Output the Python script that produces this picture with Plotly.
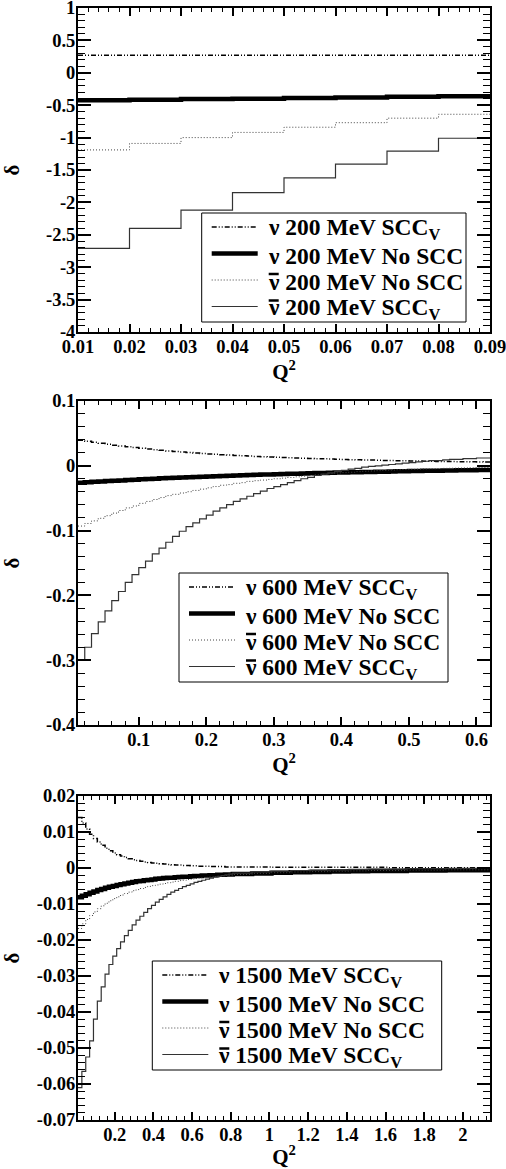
import numpy as np
import plotly.graph_objects as go

FONT = "Liberation Serif"

# ---------------- data: 200 MeV (bins of 0.01 in Q^2) ----------------
EDGES_200 = [0.01, 0.02, 0.03, 0.04, 0.05, 0.06, 0.07, 0.08, 0.09]
nu_200_scc = [0.27, 0.27, 0.27, 0.27, 0.27, 0.27, 0.27, 0.27]
nu_200_noscc = [-0.425, -0.415, -0.405, -0.40, -0.39, -0.38, -0.37, -0.36]
nubar_200_noscc = [-1.19, -1.09, -1.00, -0.92, -0.84, -0.77, -0.70, -0.64]
nubar_200_scc = [-2.71, -2.40, -2.12, -1.85, -1.62, -1.41, -1.21, -1.01]

# ---------------- data: 600 MeV (bins of 0.01 from 0.01 to 0.62) ----------------
EDGES_600 = list(np.round(np.linspace(0.01, 0.62, 62), 2))
nu_600_scc = [0.0395, 0.0378, 0.0362, 0.0347, 0.0333, 0.0319, 0.0306, 0.0293, 0.0281, 0.0270,
              0.0259, 0.0249, 0.0239, 0.0230, 0.0221, 0.0213, 0.0205, 0.0198, 0.0191, 0.0184,
              0.0178, 0.0172, 0.0166, 0.0160, 0.0155, 0.0150, 0.0145, 0.0141, 0.0136, 0.0132,
              0.0128, 0.0124, 0.0120, 0.0117, 0.0113, 0.0110, 0.0107, 0.0104, 0.0101, 0.0098,
              0.0095, 0.0093, 0.0090, 0.0088, 0.0086, 0.0083, 0.0081, 0.0079, 0.0077, 0.0075,
              0.0073, 0.0072, 0.0070, 0.0068, 0.0067, 0.0065, 0.0064, 0.0062, 0.0061, 0.0060,
              0.0058]
nu_600_noscc = [-0.0260, -0.0254, -0.0248, -0.0242, -0.0236, -0.0230, -0.0225, -0.0219, -0.0214, -0.0209,
                -0.0204, -0.0199, -0.0194, -0.0190, -0.0185, -0.0181, -0.0177, -0.0172, -0.0168, -0.0164,
                -0.0160, -0.0157, -0.0153, -0.0149, -0.0146, -0.0142, -0.0139, -0.0136, -0.0133, -0.0130,
                -0.0127, -0.0124, -0.0121, -0.0118, -0.0115, -0.0113, -0.0110, -0.0108, -0.0105, -0.0103,
                -0.0100, -0.0098, -0.0096, -0.0094, -0.0092, -0.0090, -0.0088, -0.0086, -0.0084, -0.0082,
                -0.0080, -0.0078, -0.0077, -0.0075, -0.0073, -0.0072, -0.0070, -0.0069, -0.0067, -0.0066,
                -0.0064]
nubar_600_noscc = [-0.093, -0.089, -0.085, -0.081, -0.077, -0.073, -0.069, -0.065, -0.062, -0.058,
                   -0.055, -0.052, -0.049, -0.046, -0.044, -0.042, -0.040, -0.038, -0.036, -0.034,
                   -0.032, -0.030, -0.029, -0.027, -0.026, -0.024, -0.023, -0.022, -0.021, -0.020,
                   -0.019, -0.018, -0.017, -0.016, -0.015, -0.014, -0.013, -0.012, -0.011, -0.0105,
                   -0.0100, -0.0090, -0.0085, -0.0080, -0.0075, -0.0070, -0.0065, -0.0060, -0.0057, -0.0054,
                   -0.0051, -0.0048, -0.0045, -0.0042, -0.0040, -0.0037, -0.0035, -0.0033, -0.0030, -0.0028,
                   -0.0026]
nubar_600_scc = [-0.300, -0.280, -0.259, -0.241, -0.224, -0.208, -0.194, -0.180, -0.168, -0.157,
                 -0.147, -0.136, -0.127, -0.118, -0.109, -0.101, -0.094, -0.088, -0.082, -0.076,
                 -0.070, -0.065, -0.060, -0.055, -0.051, -0.047, -0.043, -0.039, -0.035, -0.032,
                 -0.029, -0.026, -0.023, -0.020, -0.018, -0.015, -0.013, -0.011, -0.009, -0.007,
                 -0.005, -0.004, -0.002, -0.001, 0.000, 0.001, 0.002, 0.003, 0.004, 0.005,
                 0.006, 0.007, 0.008, 0.008, 0.009, 0.010, 0.010, 0.011, 0.011, 0.012,
                 0.012]

# ---------------- data: 1500 MeV (bins of 0.02 up to 0.81, then 0.1) ----------------
EDGES_1500 = list(np.round(np.r_[np.arange(0.01, 0.80, 0.02), np.arange(0.81, 2.02, 0.1), 2.14], 2))
nu_1500_scc = [0.0140, 0.0125, 0.0108, 0.0094, 0.0082, 0.0072, 0.0063, 0.0055, 0.0048, 0.0042,
               0.0037, 0.0033, 0.0029, 0.0026, 0.0023, 0.0021, 0.0019, 0.0017, 0.0015, 0.0014,
               0.0013, 0.0012, 0.0011, 0.0010, 0.0009, 0.0008, 0.0008, 0.0007, 0.0007, 0.0006,
               0.0006, 0.0005, 0.0005, 0.0005, 0.0004, 0.0004, 0.0004, 0.0004, 0.0003, 0.0003,
               0.0003, 0.0003, 0.0002, 0.0002, 0.0002, 0.0002, 0.0002, 0.0002, 0.0001, 0.0001,
               0.0001, 0.0001, 0.0001]
nu_1500_noscc = [-0.0081, -0.0077, -0.0073, -0.0069, -0.0065, -0.0061, -0.0058, -0.0055, -0.0052, -0.0050,
                 -0.0047, -0.0045, -0.0043, -0.0041, -0.0039, -0.0037, -0.0036, -0.0034, -0.0033, -0.0032,
                 -0.0030, -0.0029, -0.0028, -0.0027, -0.0027, -0.0026, -0.0025, -0.0024, -0.0024, -0.0023,
                 -0.0022, -0.0022, -0.0021, -0.0021, -0.0020, -0.0020, -0.0019, -0.0019, -0.0018, -0.0018,
                 -0.0017, -0.0015, -0.0013, -0.0012, -0.0011, -0.0010, -0.0009, -0.0008, -0.0008, -0.0007,
                 -0.0007, -0.0006, -0.0006]
nubar_1500_noscc = [-0.0168, -0.0155, -0.0143, -0.0132, -0.0122, -0.0113, -0.0105, -0.0098, -0.0091, -0.0085,
                    -0.0080, -0.0075, -0.0071, -0.0067, -0.0063, -0.0060, -0.0057, -0.0054, -0.0051, -0.0049,
                    -0.0047, -0.0045, -0.0043, -0.0041, -0.0039, -0.0037, -0.0035, -0.0034, -0.0032, -0.0031,
                    -0.0029, -0.0028, -0.0027, -0.0026, -0.0025, -0.0024, -0.0023, -0.0022, -0.0021, -0.0020,
                    -0.0018, -0.0015, -0.0013, -0.0011, -0.0010, -0.0009, -0.0008, -0.0007, -0.0007, -0.0006,
                    -0.0006, -0.0005, -0.0005]
nubar_1500_scc = [-0.0610, -0.0565, -0.0525, -0.0480, -0.0420, -0.0370, -0.0330, -0.0295, -0.0268, -0.0245,
                  -0.0224, -0.0205, -0.0188, -0.0173, -0.0158, -0.0145, -0.0134, -0.0123, -0.0113, -0.0104,
                  -0.0095, -0.0087, -0.0080, -0.0073, -0.0067, -0.0062, -0.0057, -0.0052, -0.0048, -0.0044,
                  -0.0040, -0.0037, -0.0034, -0.0031, -0.0028, -0.0025, -0.0023, -0.0021, -0.0019, -0.0017,
                  -0.0014, -0.0011, -0.0009, -0.0007, -0.0006, -0.0005, -0.0004, -0.0003, -0.0003, -0.0002,
                  -0.0002, -0.0001, -0.0001]

# ---------------- tick labels ----------------
X_TICKS_200 = [0.01, 0.02, 0.03, 0.04, 0.05, 0.06, 0.07, 0.08, 0.09]
X_LABELS_200 = ["0.01", "0.02", "0.03", "0.04", "0.05", "0.06", "0.07", "0.08", "0.09"]
Y_TICKS_200 = [1, 0.5, 0, -0.5, -1, -1.5, -2, -2.5, -3, -3.5, -4]
Y_LABELS_200 = ["1", "0.5", "0", "-0.5", "-1", "-1.5", "-2", "-2.5", "-3", "-3.5", "-4"]
X_TICKS_600 = [0.1, 0.2, 0.3, 0.4, 0.5, 0.6]
X_LABELS_600 = ["0.1", "0.2", "0.3", "0.4", "0.5", "0.6"]
Y_TICKS_600 = [0.1, 0, -0.1, -0.2, -0.3, -0.4]
Y_LABELS_600 = ["0.1", "0", "-0.1", "-0.2", "-0.3", "-0.4"]
X_TICKS_1500 = [0.2, 0.4, 0.6, 0.8, 1.0, 1.2, 1.4, 1.6, 1.8, 2.0]
X_LABELS_1500 = ["0.2", "0.4", "0.6", "0.8", "1", "1.2", "1.4", "1.6", "1.8", "2"]
Y_TICKS_1500 = [0.02, 0.01, 0, -0.01, -0.02, -0.03, -0.04, -0.05, -0.06, -0.07]
Y_LABELS_1500 = ["0.02", "0.01", "0", "-0.01", "-0.02", "-0.03", "-0.04", "-0.05", "-0.06", "-0.07"]

ENERGIES = [200, 600, 1500]
NU = "\u03bd"

# ---------------- geometry (pixels) ----------------
W, H = 506, 1169
ML, MR, MT, MB = 78, 16, 8, 49
PW, PH = W - ML - MR, H - MT - MB


def px2x(px):
    return (px - ML) / PW


def py2y(py):
    return (H - MB - py) / PH


STYLES = {
    "scc": dict(color="black", width=1.5, dash="5px,2px,1px,2px,1px,2px"),
    "noscc": dict(color="black", width=4.5),
    "bar_noscc": dict(color="#444444", width=1, dash="1px,2px"),
    "bar_scc": dict(color="#333333", width=1.2),
}
ORDER = ["scc", "noscc", "bar_noscc", "bar_scc"]

fig = go.Figure()


def add_panel(idx, edges, series, energy):
    xa = "x" if idx == 1 else f"x{idx}"
    ya = "y" if idx == 1 else f"y{idx}"
    names = [f"{NU} {energy} MeV SCC_V", f"{NU} {energy} MeV No SCC",
             f"anti-{NU} {energy} MeV No SCC", f"anti-{NU} {energy} MeV SCC_V"]
    for vals, name, st in zip(series, names, ORDER):
        fig.add_trace(go.Scatter(
            x=edges, y=list(vals) + [vals[-1]], mode="lines", name=name, showlegend=False,
            line=dict(shape="hv", **STYLES[st]), xaxis=xa, yaxis=ya,
        ))


add_panel(1, EDGES_200, [nu_200_scc, nu_200_noscc, nubar_200_noscc, nubar_200_scc], 200)
add_panel(2, EDGES_600, [nu_600_scc, nu_600_noscc, nubar_600_noscc, nubar_600_scc], 600)
add_panel(3, EDGES_1500, [nu_1500_scc, nu_1500_noscc, nubar_1500_noscc, nubar_1500_scc], 1500)

TICKFONT = dict(family=FONT, size=18.5, color="black", weight="bold")
TITLEFONT = dict(family=FONT, size=21, color="black", weight="bold")


def xaxis(rng, tv, tt, mdt, anchor):
    return dict(
        domain=[0, 1], range=rng, anchor=anchor, tickmode="array", tickvals=tv, ticktext=tt,
        ticks="inside", ticklen=8, tickwidth=1.5, tickcolor="black",
        minor=dict(ticks="inside", ticklen=4, tickwidth=1, tickcolor="black", dtick=mdt, tick0=0),
        showline=True, linecolor="black", linewidth=2, mirror="allticks",
        showgrid=False, zeroline=False, tickfont=TICKFONT, ticklabeloverflow="allow",
        ticklabelstandoff=-3,
        title=dict(text="Q<sup>2</sup>", font=TITLEFONT, standoff=0), automargin=False,
    )


def yaxis(dom, rng, tv, tt, mdt, anchor):
    return dict(
        domain=dom, range=rng, anchor=anchor, tickmode="array", tickvals=tv, ticktext=tt,
        ticks="inside", ticklen=13, tickwidth=1.5, tickcolor="black",
        minor=dict(ticks="inside", ticklen=7, tickwidth=1, tickcolor="black", dtick=mdt, tick0=0),
        showline=True, linecolor="black", linewidth=2, mirror="allticks",
        showgrid=False, zeroline=False, tickfont=TICKFONT, ticklabeloverflow="allow",
        ticklabelstandoff=-3,
        title=dict(text="\u03b4", font=TITLEFONT, standoff=24), automargin=False,
    )


# ---------------- hand-drawn legends (one per panel) ----------------
LEGEND_BOXES = [(201.7, 213, 466, 322), (179, 573, 448, 682), (152.3, 961, 441.7, 1070)]
ROW_OFFSETS = [14, 40.5, 67, 93.5]
shapes, annotations = [], []
LEGFONT = dict(family=FONT, size=23.5, color="black", weight="bold")
for (x0, y0, x1, y1), energy in zip(LEGEND_BOXES, ENERGIES):
    shapes.append(dict(type="rect", xref="paper", yref="paper", x0=px2x(x0), x1=px2x(x1),
                       y0=py2y(y0), y1=py2y(y1), line=dict(color="black", width=1),
                       fillcolor="white", layer="above"))
    labels = [f"{NU} {energy} MeV SCC<sub>V</sub>", f"{NU} {energy} MeV No SCC",
              f"{NU} {energy} MeV No SCC", f"{NU} {energy} MeV SCC<sub>V</sub>"]
    for k, (off, st, lab) in enumerate(zip(ROW_OFFSETS, ORDER, labels)):
        ry = y0 + off
        shapes.append(dict(type="line", xref="paper", yref="paper",
                           x0=px2x(x0 + 10), x1=px2x(x0 + 56), y0=py2y(ry), y1=py2y(ry),
                           line=STYLES[st], layer="above"))
        tx = x0 + 64
        annotations.append(dict(text=lab, xref="paper", yref="paper", x=px2x(tx), y=py2y(ry + 2),
                                xanchor="left", yanchor="middle", showarrow=False, font=LEGFONT))
        if k >= 2:  # overline of the anti-neutrino symbol
            shapes.append(dict(type="line", xref="paper", yref="paper",
                               x0=px2x(tx + 3), x1=px2x(tx + 13), y0=py2y(ry - 6), y1=py2y(ry - 6),
                               line=dict(color="black", width=2.5), layer="above"))

fig.update_layout(
    width=W, height=H,
    margin=dict(l=ML, r=MR, t=MT, b=MB),
    paper_bgcolor="white", plot_bgcolor="white",
    xaxis=xaxis([0.01, 0.09], X_TICKS_200, X_LABELS_200, 0.002, "y"),
    yaxis=yaxis([py2y(332), py2y(8)], [-4, 1], Y_TICKS_200, Y_LABELS_200, 0.1, "x"),
    xaxis2=xaxis([0.01, 0.62], X_TICKS_600, X_LABELS_600, 0.02, "y2"),
    yaxis2=yaxis([py2y(725), py2y(401)], [-0.4, 0.1], Y_TICKS_600, Y_LABELS_600, 0.02, "x2"),
    xaxis3=xaxis([0.01, 2.14], X_TICKS_1500, X_LABELS_1500, 0.04, "y3"),
    yaxis3=yaxis([0.0, py2y(796)], [-0.07, 0.02], Y_TICKS_1500, Y_LABELS_1500, 0.002, "x3"),
    shapes=shapes, annotations=annotations,
    showlegend=False,
)

# remove the browser's default 8px page margin so the figure sits at the window origin
fig.write_html("out.html", config={"displayModeBar": False},
               post_script="document.body.style.margin='0px';")
